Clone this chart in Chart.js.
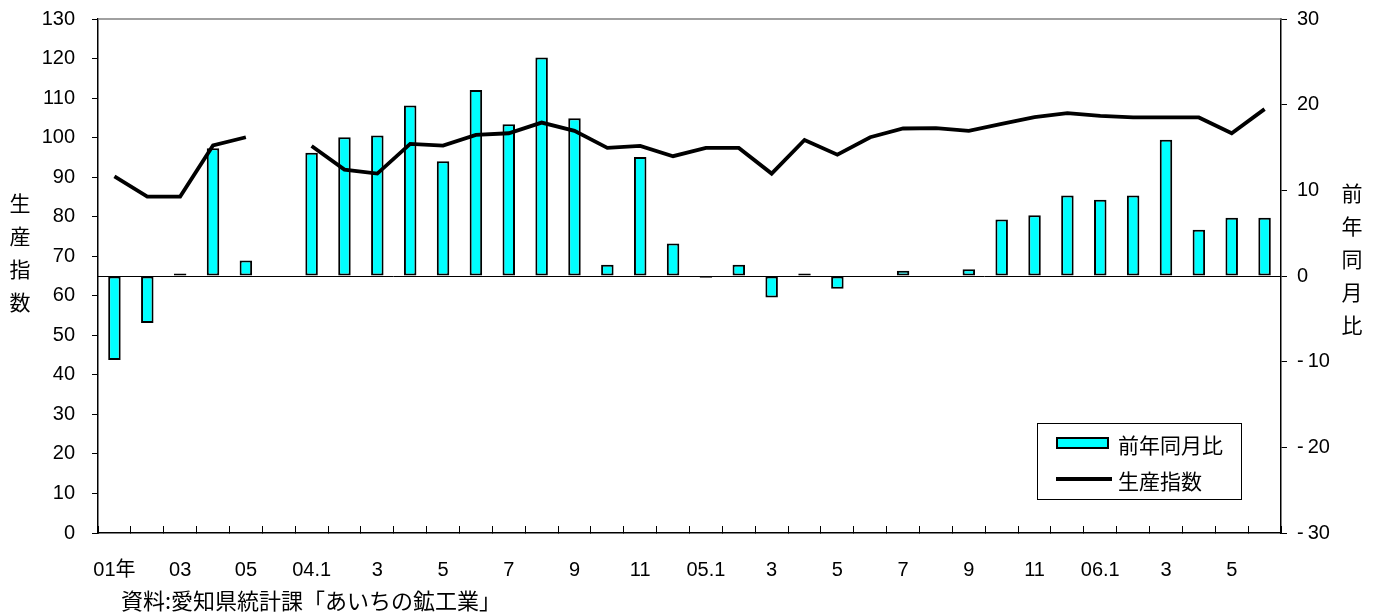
<!DOCTYPE html>
<html lang="ja">
<head>
<meta charset="utf-8">
<title>生産指数と前年同月比</title>
<script src="https://cdn.jsdelivr.net/npm/chart.js@4.4.1/dist/chart.umd.min.js"></script>
<style>
  html, body { margin: 0; padding: 0; background: #fff; overflow: hidden; }
  #wrap { width: 1380px; height: 613px; position: relative; }
</style>
</head>
<body>
<div id="wrap"><canvas id="chart" width="1380" height="613"></canvas></div>
<script>
// Period labels: annual figures, a blank separator, then monthly figures (only every other one is labelled)
const categories = [
  '01年', '', '03', '', '05', '',
  '04.1', '', '3', '', '5', '', '7', '', '9', '', '11', '',
  '05.1', '', '3', '', '5', '', '7', '', '9', '', '11', '',
  '06.1', '', '3', '', '5', ''
];

// 生産指数 (left axis)
const productionIndex = [
  90.2, 85.1, 85.1, 98.0, 100.1, null,
  97.9, 91.9, 90.9, 98.4, 98.0, 100.7, 101.1, 103.8, 101.7, 97.4, 97.9, 95.3,
  97.4, 97.4, 90.9, 99.4, 95.7, 100.1, 102.3, 102.4, 101.7, 103.5, 105.2, 106.2,
  105.5, 105.1, 105.1, 105.1, 101.1, 107.2
];

// 前年同月比, % (right axis)
const yoyChange = [
  -9.8, -5.5, 0.3, 14.9, 1.8, null,
  14.4, 16.2, 16.4, 19.9, 13.4, 21.7, 17.7, 25.5, 18.4, 1.3, 13.9, 3.8,
  -0.2, 1.3, -2.5, 0.3, -1.5, 0, 0.6, 0, 0.8, 6.6, 7.1, 9.4,
  8.9, 9.4, 15.9, 5.4, 6.8, 6.8
];

const indexAxisRange = { min: 0, max: 130, step: 10 };
const yoyAxisRange = { min: -30, max: 30, step: 10 };

const leftTitle = ['生', '産', '指', '数'];
const rightTitle = ['前', '年', '同', '月', '比'];
const sourceNote = '資料:愛知県統計課「あいちの鉱工業」';

const LATIN = '"Liberation Sans", Arial, "Noto Sans CJK JP", sans-serif';
const CJK = '"Noto Sans CJK JP", "Liberation Sans", sans-serif';

// Plot frame top edge, axis titles, in-plot legend and source note
const decorations = {
  id: 'decorations',
  beforeDatasetsDraw(chart) {
    const { ctx, chartArea: a } = chart;
    ctx.save();
    ctx.strokeStyle = '#808080';
    ctx.lineWidth = 1.5;
    ctx.beginPath();
    ctx.moveTo(a.left, a.top);
    ctx.lineTo(a.right, a.top);
    ctx.stroke();
    ctx.restore();
  },
  afterDraw(chart) {
    const { ctx, chartArea: a } = chart;
    ctx.save();
    ctx.fillStyle = '#000';
    ctx.textAlign = 'center';
    ctx.textBaseline = 'middle';
    ctx.font = '21px ' + CJK;
    leftTitle.forEach((ch, i) => ctx.fillText(ch, 20, a.top + 184 + i * 33));
    rightTitle.forEach((ch, i) => ctx.fillText(ch, 1352, a.top + 174 + i * 33));

    // legend box
    const bw = 204, bh = 76;
    const bx = a.right - 244, by = a.bottom - 110;
    ctx.fillStyle = '#fff';
    ctx.fillRect(bx, by, bw, bh);
    ctx.strokeStyle = '#000';
    ctx.lineWidth = 1;
    ctx.strokeRect(bx + 0.5, by + 0.5, bw, bh);

    const barSet = chart.data.datasets.find(d => d.type === 'bar');
    const lineSet = chart.data.datasets.find(d => d.type === 'line');

    ctx.fillStyle = barSet.backgroundColor;
    ctx.fillRect(bx + 19, by + 14, 53, 12);
    ctx.lineWidth = 2;
    ctx.strokeStyle = barSet.borderColor;
    ctx.strokeRect(bx + 20, by + 15, 51, 10);

    ctx.strokeStyle = lineSet.borderColor;
    ctx.lineWidth = 4;
    ctx.beginPath();
    ctx.moveTo(bx + 19, by + 56);
    ctx.lineTo(bx + 75, by + 56);
    ctx.stroke();

    ctx.fillStyle = '#000';
    ctx.textAlign = 'left';
    ctx.font = '21px ' + CJK;
    ctx.fillText(barSet.label, bx + 81, by + 22);
    ctx.fillText(lineSet.label, bx + 81, by + 58);

    // source note
    ctx.font = '22px ' + CJK;
    ctx.fillText(sourceNote, 121, 601);
    ctx.restore();
  }
};

// Fixed axis box sizes; label overhang is absorbed by the layout padding instead
const fixWidth = w => s => { s.width = w; s.paddingTop = 0; s.paddingBottom = 0; };

new Chart(document.getElementById('chart'), {
  type: 'bar',
  data: {
    labels: categories,
    datasets: [
      {
        type: 'line',
        label: '生産指数',
        data: productionIndex,
        yAxisID: 'y',
        borderColor: '#000',
        backgroundColor: '#000',
        borderWidth: 3.8,
        pointRadius: 0,
        tension: 0,
        spanGaps: false,
        order: 0
      },
      {
        type: 'bar',
        label: '前年同月比',
        data: yoyChange,
        yAxisID: 'y1',
        backgroundColor: '#00FFFF',
        borderColor: '#000',
        borderWidth: 2,
        borderSkipped: false,
        barPercentage: 0.38,
        categoryPercentage: 1,
        order: 1
      }
    ]
  },
  options: {
    responsive: false,
    devicePixelRatio: 1,
    animation: false,
    events: [],
    layout: { padding: { top: 19, left: 0, right: 0, bottom: 0 } },
    plugins: {
      legend: { display: false },
      tooltip: { enabled: false },
      title: { display: false }
    },
    scales: {
      x: {
        type: 'category',
        offset: true,
        grid: { offset: true, drawOnChartArea: false, tickLength: -7, color: '#000', lineWidth: 1 },
        border: { color: '#000', width: 1.5 },
        ticks: {
          autoSkip: false, maxRotation: 0, minRotation: 0, padding: 32,
          color: '#000', font: { family: LATIN, size: 20 }
        },
        afterFit(s) { s.height = 80; }
      },
      y: {
        position: 'left',
        min: indexAxisRange.min,
        max: indexAxisRange.max,
        grid: { drawOnChartArea: false, tickLength: 6, color: '#000', lineWidth: 1 },
        border: { color: '#000', width: 1.5 },
        ticks: {
          stepSize: indexAxisRange.step, padding: 17,
          color: '#000', font: { family: LATIN, size: 20 }
        },
        afterFit: fixWidth(98)
      },
      y1: {
        position: 'right',
        min: yoyAxisRange.min,
        max: yoyAxisRange.max,
        grid: {
          drawOnChartArea: true,
          tickLength: 6,
          lineWidth: 1,
          color: c => (c.tick && c.tick.value === 0 ? '#000' : 'rgba(0,0,0,0)'),
          tickColor: '#000'
        },
        border: { color: '#000', width: 1.5 },
        ticks: {
          stepSize: yoyAxisRange.step, padding: 10,
          color: '#000', font: { family: LATIN, size: 20 },
          callback: v => (v < 0 ? '-\u2009' + Math.abs(v) : String(v))
        },
        afterFit: fixWidth(99)
      }
    }
  },
  plugins: [decorations]
});
</script>
</body>
</html>
